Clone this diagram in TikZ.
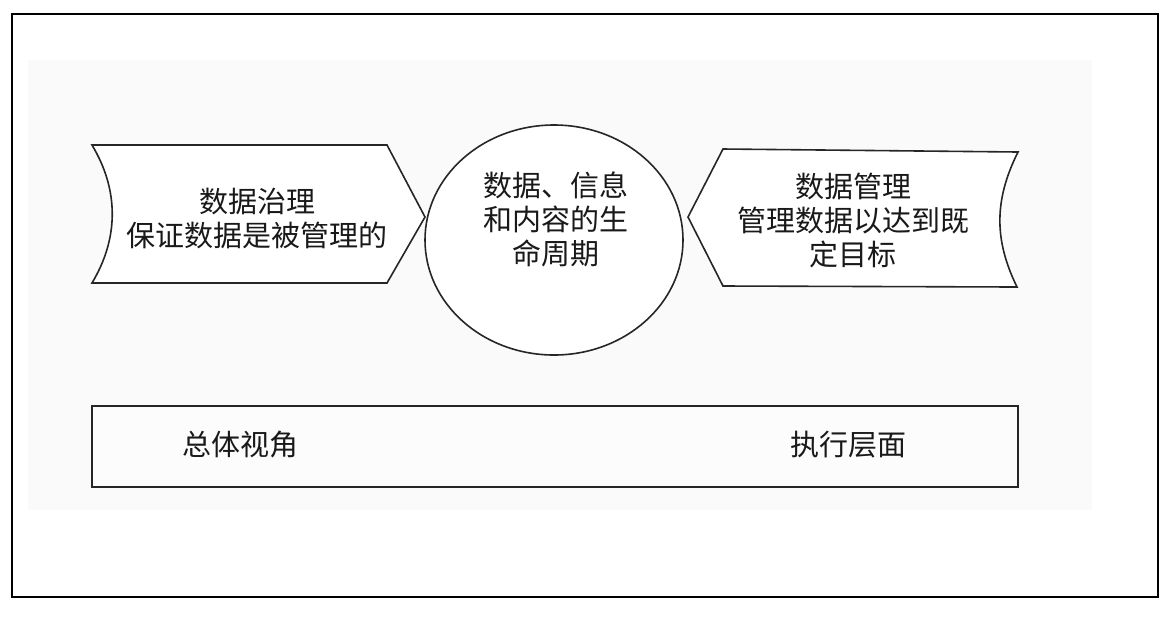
\documentclass[tikz,border=0pt]{standalone}
\usepackage{fontspec}
\newfontfamily\cjk{Noto Sans CJK SC}
\usetikzlibrary{shapes.geometric}
\begin{document}
\begin{tikzpicture}[x=0.5pt,y=-0.5pt,
  lbl/.style={font=\cjk\fontsize{14.5}{17}\selectfont, align=center, inner sep=0pt, text=black!90},
  shp/.style={draw=black!85, line width=0.8pt, fill=white}]
\useasboundingbox (0,0) rectangle (1172,617);
\fill[black!2] (28,60) rectangle (1092,510);
\draw[line width=1pt] (12,14) rectangle (1158,597);
% left chevron
\draw[shp] (92,145) -- (387,145) -- (425,217) -- (387,283) -- (92,283)
  .. controls (119,238) and (119,190) .. (92,145) -- cycle;
\node[lbl] (gov) at (257,218) {数据治理\\保证数据是被管理的};
% circle
\node[shp, ellipse, minimum width=129pt, minimum height=115pt, inner sep=0pt] (life) at (554,240) {};
\node[lbl] (lifet) at (556,219) {数据、信息\\和内容的生\\命周期};
% right chevron
\draw[shp] (723,149) -- (1018,152) .. controls (994,200) and (994,240) .. (1017,287)
  -- (723,286) -- (688,217) -- cycle;
\node[lbl] (mgmt) at (853,220) {数据管理\\管理数据以达到既\\定目标};
% bottom bar
\draw[shp, fill=black!1] (92,406) rectangle (1018,487);
\node[lbl] (over) at (240,445) {总体视角};
\node[lbl] (exec) at (848,445) {执行层面};
\end{tikzpicture}
\end{document}
